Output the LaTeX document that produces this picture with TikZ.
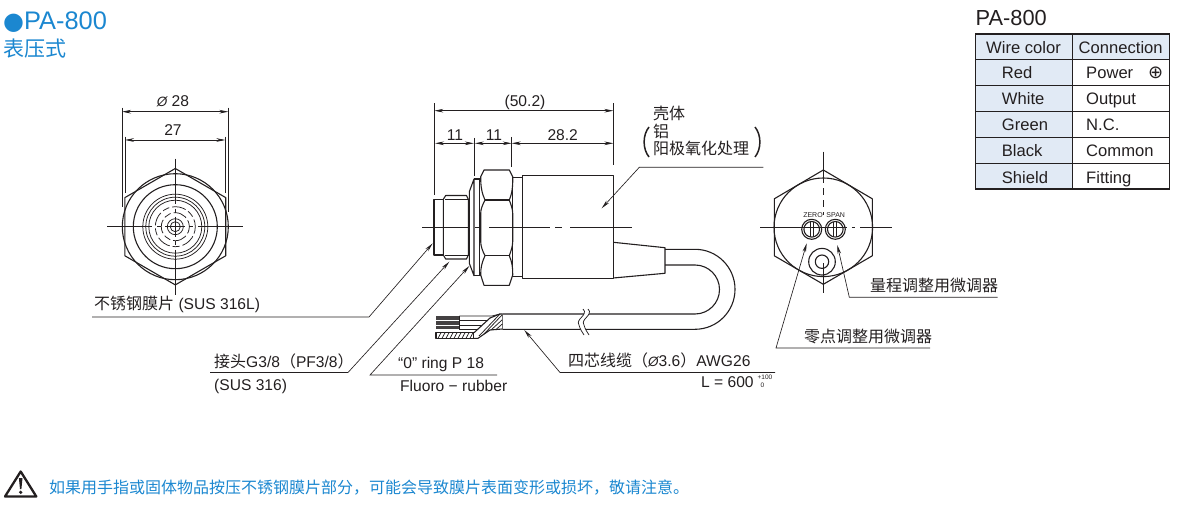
\documentclass[tikz,border=0pt]{standalone}
\usepackage{fontspec}
\setmainfont{Liberation Sans}
\newfontfamily\cjkfont{Noto Sans CJK SC}
\newfontfamily\symfont{DejaVu Sans}
\usepackage{xcolor}
\usetikzlibrary{arrows.meta}
\definecolor{titleblue}{HTML}{1B87D0}
\definecolor{ink}{HTML}{231F20}
\definecolor{cellblue}{HTML}{E1EAF5}
\newcommand{\zh}[1]{{\cjkfont\fontsize{16}{18}\selectfont #1}}
\newcommand{\dia}{{\itshape\fontsize{13.5}{15}\selectfont\O}}
\tikzset{
    outline/.style={draw=ink, line width=1.1pt, line join=round},
    thinline/.style={draw=ink, line width=0.75pt},
    centerline/.style={draw=ink, line width=0.65pt},
    extline/.style={draw=ink, line width=0.65pt},
    dimline/.style={draw=ink, line width=0.65pt, {Stealth[length=9pt,width=3.6pt]}-{Stealth[length=9pt,width=3.6pt]}},
    leader/.style={draw=ink, line width=0.65pt, {Stealth[length=9pt,width=3.6pt]}-},
    lbl/.style={inner sep=0pt, anchor=base west, text=ink, font=\fontsize{15.6}{17}\selectfont},
    dimlbl/.style={lbl, anchor=base},
    cell/.style={inner sep=0pt, anchor=base west, text=ink, font=\fontsize{16.6}{18}\selectfont},
}
\begin{document}
\begin{tikzpicture}[x=1pt, y=-1pt]
    \useasboundingbox (0,0) rectangle (1177,505);
    \def\fx{175.3}
    \def\fy{226.7}
    \def\rx{823.3}
    \def\ry{227.3}
    \def\sy{227.3}

    % titles
    \node[inner sep=0pt, anchor=base west, text=titleblue, font=\fontsize{25.4}{28}\selectfont] (title) at (3,29.5) {{\symfont\fontsize{24}{26}\selectfont ●}PA-800};
    \node[inner sep=0pt, anchor=base west, text=titleblue] (titlesub) at (3.5,56.5) {{\cjkfont\fontsize{21}{24}\selectfont 表压式}};
    \node[inner sep=0pt, anchor=base west, text=ink, font=\fontsize{21.8}{24}\selectfont] (tabletitle) at (975.5,26) {PA-800};

    % front view
    \draw[outline] (\fx,\fy-58.2) -- (\fx+50.4,\fy-29.1) -- (\fx+50.4,\fy+29.1) -- (\fx,\fy+58.2) -- (\fx-50.4,\fy+29.1) -- (\fx-50.4,\fy-29.1) -- cycle;
    \draw[outline] (\fx,\fy) circle[radius=53];
    \draw[outline] (\fx,\fy) circle[radius=42];
    \foreach \r in {32.5,29.5,26.5,8,5} {
        \draw[thinline] (\fx,\fy) circle[radius=\r];
    }
    \foreach \r in {20,14} {
        \draw[thinline, dash pattern=on 7pt off 3pt on 14pt off 3pt] (\fx,\fy) circle[radius=\r];
    }
    \foreach \a/\b in {-68/-23,-18/-14,-10/10,14/18,23/68} {
        \draw[centerline] (\fx+\a,\fy) -- (\fx+\b,\fy);
        \draw[centerline] (\fx,\fy+\a) -- (\fx,\fy+\b);
    }
    \draw[extline] (122,107.7) -- (122,206.7);
    \draw[extline] (228.3,107.7) -- (228.3,211.7);
    \draw[extline] (125,136.7) -- (125,193.3);
    \draw[extline] (225.3,136.7) -- (225.3,193.3);
    \draw[dimline] (122,111.7) -- (228.3,111.7);
    \draw[dimline] (125,140) -- (225.3,140);
    \node[dimlbl] (dimdia) at (173,106.7) {\dia\ 28};
    \node[dimlbl] (dimflat) at (173,135.7) {27};

    % side view
    \draw[outline] (434,199.3) rectangle (443.3,255);
    \draw[outline] (443.3,199.3) -- (445.7,195.5) -- (466.5,195.5) -- (468.3,199.3) -- (468.3,255) -- (466.5,259) -- (445.7,259) -- (443.3,255) -- cycle;
    \draw[thinline] (445,199.3) -- (468.3,199.3);
    \draw[thinline] (445,255) -- (468.3,255);
    \draw[outline] (468.3,199.3) -- (469.3,199.3) -- (469.3,255) -- (468.3,255);
    \draw[outline] (469.3,191.7) -- (474,179) -- (474,275.7) -- (469.3,263.3) -- cycle;
    \draw[outline] (474,179) -- (480.7,179);
    \draw[outline] (474,275.7) -- (480.7,275.7);
    \draw[thinline] (479.3,179) -- (479.3,275.7);
    \draw[outline] (480.7,176.7) -- (484,170) -- (509.3,170) -- (512.7,176.7)
        .. controls (513,186) and (512,194) .. (509.3,200)
        .. controls (511,205) and (512.7,209) .. (512.7,213.3) -- (512.7,241.7)
        .. controls (512.7,246) and (511,251) .. (509.3,255.7)
        .. controls (512,262) and (513,268) .. (512.7,275) -- (509.3,285.3) -- (484,285.3) -- (480.7,275)
        .. controls (480.5,268) and (482,262) .. (485,255.7)
        .. controls (482.5,251) and (480.7,246) .. (480.7,241.7) -- (480.7,213.3)
        .. controls (480.7,209) and (482.5,205) .. (485,200)
        .. controls (482,194) and (480.5,186) .. (480.7,176.7) -- cycle;
    \draw[outline] (485,200) -- (509.3,200);
    \draw[outline] (485,255.7) -- (509.3,255.7);
    \draw[outline] (512.7,177.3) rectangle (522.3,276.7);
    \draw[outline] (522.3,175.7) rectangle (613.3,278.3);
    \draw[outline] (613.3,242.3) -- (665,247.7) -- (665,273.3) -- (613.3,278);
    \foreach \a/\b in {422/469.3,475/479.3,489.3/550,555/561.7,570/631.7} {
        \draw[centerline] (\a,\sy) -- (\b,\sy);
    }

    % cable
    \draw[outline] (665,249.3) -- (695,249.3) arc[start angle=-90, end angle=90, radius=40] -- (502.3,329.3);
    \draw[outline] (665,265) -- (695,265) arc[start angle=-90, end angle=90, radius=24.5] -- (502.3,314);
    \draw[outline] (502.3,314) -- (502.3,329.3);
    \fill[white] (588,309) .. controls (594,315) and (580,319) .. (584,325) .. controls (585,329) and (587,332) .. (589,335)
        -- (584,335) .. controls (582,332) and (580,329) .. (579,325) .. controls (575,319) and (589,315) .. (583,309) -- cycle;
    \draw[thinline] (588,309) .. controls (594,315) and (580,319) .. (584,325) .. controls (585,329) and (587,332) .. (589,335);
    \draw[thinline] (583,309) .. controls (589,315) and (575,319) .. (579,325) .. controls (580,329) and (582,332) .. (584,335);
    % wire end
    \fill[ink!85] (436,316) rectangle (459.3,329.3);
    \foreach \y in {320.5,325} {
        \draw[white, line width=0.5pt] (436,\y) -- (459.3,\y);
    }
    \draw[thinline] (459.3,316) -- (492,316) -- (500,314);
    \draw[thinline] (459.3,320.5) -- (489,320.5);
    \draw[thinline] (459.3,325) -- (485,325);
    \draw[thinline] (459.3,329.3) -- (481,329.3);
    \draw[thinline] (459.3,316) -- (459.3,329.3);
    \draw[outline] (436,332.7) rectangle (474,338.3);
    \foreach \x in {438,442,...,474} {
        \draw[thinline] (\x,338.3) -- (\x+3,332.7);
    }
    \fill[white] (474,338.3) -- (478,338.3) -- (490,330) -- (502.3,329) -- (502.3,314) -- (500,314) -- (490,318) -- (474,332.7) -- cycle;
    \draw[outline] (474,338.3) -- (478,338.3) -- (490,330) -- (502.3,329);
    \draw[outline] (474,332.7) -- (490,318) -- (500,314) -- (502.3,314);
    \draw[thinline] (479,336) -- (500,314);
    \draw[thinline] (484,334) -- (502,315);
    \draw[thinline] (491,330) -- (502,320);
    \draw[thinline] (496,329.5) -- (502.3,324);

    % rear view
    \draw[outline] (\rx,\ry-57.3) -- (\rx+49,\ry-28.5) -- (\rx+49,\ry+28.5) -- (\rx,\ry+57) -- (\rx-49,\ry+28.5) -- (\rx-49,\ry-28.5) -- cycle;
    \draw[outline] (\rx,\ry) circle[radius=49.3];
    \foreach \a/\b in {-75.6/-44,-39/-32,-27/-20,-15/-12} {
        \draw[centerline] (\rx,\ry+\a) -- (\rx,\ry+\b);
    }
    \draw[centerline] (\rx,\ry+36) -- (\rx,\ry+66);
    \foreach \a/\b in {-63.3/24,28.5/32,36.7/68.4} {
        \draw[centerline] (\rx+\a,\ry) -- (\rx+\b,\ry);
    }
    \foreach \cx in {811.7,835.3} {
        \draw[outline] (\cx,229.3) circle[radius=10];
        \draw[outline] (\cx,229.3) circle[radius=7.8];
        \draw[thinline] (\cx-1.5,222) -- (\cx-1.5,236.5);
        \draw[thinline] (\cx+1.5,222) -- (\cx+1.5,236.5);
    }
    \draw[outline] (822,261.7) circle[radius=13.3];
    \draw[outline] (822,261.7) circle[radius=6.7];
    \node[dimlbl, font=\fontsize{7}{8}\selectfont] (zerotag) at (813,217) {ZERO};
    \node[dimlbl, font=\fontsize{7}{8}\selectfont] (spantag) at (835.7,217) {SPAN};

    % dimensions of the side view
    \draw[extline] (434.3,103.3) -- (434.3,195);
    \draw[extline] (613.3,103.3) -- (613.3,165);
    \draw[extline] (474.3,138) -- (474.3,176);
    \draw[extline] (511.7,137) -- (511.7,167);
    \draw[dimline] (434.3,110.7) -- (613.3,110.7);
    \draw[dimline] (435,143.3) -- (473.8,143.3);
    \draw[dimline] (474.8,143.3) -- (511.7,143.3);
    \draw[dimline] (511.7,143.3) -- (613.3,143.3);
    \node[dimlbl] (dimall) at (525,106.7) {(50.2)};
    \node[dimlbl] (dimfit) at (455,140.7) {11};
    \node[dimlbl] (dimnut) at (494,140.7) {11};
    \node[dimlbl] (dimbody) at (562.7,140.7) {28.2};

    % leaders and their labels
    \node[lbl] (casetitle) at (653,120) {\zh{壳体}};
    \node[lbl] (casemat) at (653,138) {\zh{铝}};
    \node[lbl] (casefin) at (653,155) {\zh{阳极氧化处理}};
    \draw[ink, line width=1.5pt] (649,127) .. controls (642.5,135) and (642.5,149) .. (649,157);
    \draw[ink, line width=1.5pt] (755,127) .. controls (761.5,135) and (761.5,149) .. (755,157);
    \coordinate (casetip) at (601.7,208.3);
    \coordinate (caseknee) at (639.3,167.3);
    \coordinate (caseend) at (763.3,167.3);
    \draw[leader] (casetip) -- (caseknee) -- (caseend);

    \node[lbl] (dialbl) at (94,309.3) {\zh{不锈钢膜片} (SUS 316L)};
    \coordinate (diatip) at (432.7,243.3);
    \coordinate (diaknee) at (369,317);
    \coordinate (diaend) at (92,317);
    \draw[leader] (diatip) -- (diaknee) -- (diaend);

    \node[lbl] (jointlbl) at (214,367) {\zh{接头}G3/8\zh{（}PF3/8\zh{）}};
    \node[lbl] (jointmat) at (214,390) {(SUS 316)};
    \coordinate (jointtip) at (449.3,261.7);
    \coordinate (jointknee) at (348,372.5);
    \coordinate (jointend) at (210,372.5);
    \draw[leader] (jointtip) -- (jointknee) -- (jointend);

    \node[lbl] (ringlbl) at (398,368) {“0” ring P 18};
    \node[lbl] (ringmat) at (400,391) {Fluoro − rubber};
    \coordinate (ringtip) at (469.3,266);
    \coordinate (ringknee) at (370,375);
    \coordinate (ringend) at (497,375);
    \draw[leader] (ringtip) -- (ringknee) -- (ringend);

    \node[lbl] (cablelbl) at (568,366) {\zh{四芯线缆（}\dia 3.6\zh{）}AWG26};
    \node[lbl] (cablelen) at (701,387.5) {L = 600};
    \node[inner sep=0pt, text=ink, align=left, font=\fontsize{6.5}{7.5}\selectfont] (cabletol) at (765,381.5) {+100\\\hspace{3pt}0};
    \coordinate (cabletip) at (524.3,330);
    \coordinate (cableknee) at (560,372.5);
    \coordinate (cableend) at (775,372.5);
    \draw[leader] (cabletip) -- (cableknee) -- (cableend);

    \node[lbl] (spanlbl) at (870,291) {\zh{量程调整用微调器}};
    \coordinate (spantip) at (837.3,245);
    \coordinate (spanknee) at (849.3,297.3);
    \coordinate (spanend) at (997.7,297.3);
    \draw[leader] (spantip) -- (spanknee) -- (spanend);

    \node[lbl] (zerolbl) at (804,342) {\zh{零点调整用微调器}};
    \coordinate (zerotip) at (806.7,243.3);
    \coordinate (zeroknee) at (776,348);
    \coordinate (zeroend) at (930,348);
    \draw[leader] (zerotip) -- (zeroknee) -- (zeroend);

    % wiring table
    \fill[cellblue] (975.7,34) rectangle (1072.7,189);
    \fill[cellblue] (1072.7,34) rectangle (1169.3,59.3);
    \foreach \y in {85.3,111.3,137.3,163.3} {
        \draw[ink, line width=0.8pt] (975.7,\y) -- (1169.3,\y);
    }
    \draw[ink, line width=1.2pt] (975.7,59.3) -- (1169.3,59.3);
    \draw[ink, line width=1.2pt] (1072.7,34) -- (1072.7,189);
    \draw[ink, line width=1.4pt] (975.7,34) rectangle (1169.3,189);
    \node[cell, anchor=base] (headcolor) at (1023.5,53.3) {Wire color};
    \node[cell, anchor=base] (headconn) at (1120.7,53.3) {Connection};
    \foreach \n/\col/\con/\y in {a/Red/Power/79,b/White/Output/105,c/Green/N.C./131,d/Black/Common/157,e/Shield/Fitting/183} {
        \node[cell] (col\n) at (1001.7,\y) {\col};
        \node[cell] (con\n) at (1086,\y) {\con};
    }
    \node[inner sep=0pt, text=ink, font=\symfont\fontsize{18}{20}\selectfont] (plussign) at (1155.7,72.5) {⊕};

    % warning
    \draw[ink, line width=2.3pt, line join=round] (20.7,471.5) -- (36.3,496.5) -- (5,496.5) -- cycle;
    \fill[ink] (18.9,478) -- (22.5,478) -- (21.4,489) -- (20,489) -- cycle;
    \fill[ink] (20.7,492.3) circle[radius=1.8];
    \node[inner sep=0pt, anchor=base west, text=titleblue] (warntext) at (49,493) {\zh{如果用手指或固体物品按压不锈钢膜片部分，可能会导致膜片表面变形或损坏，敬请注意。}};
\end{tikzpicture}
\end{document}
